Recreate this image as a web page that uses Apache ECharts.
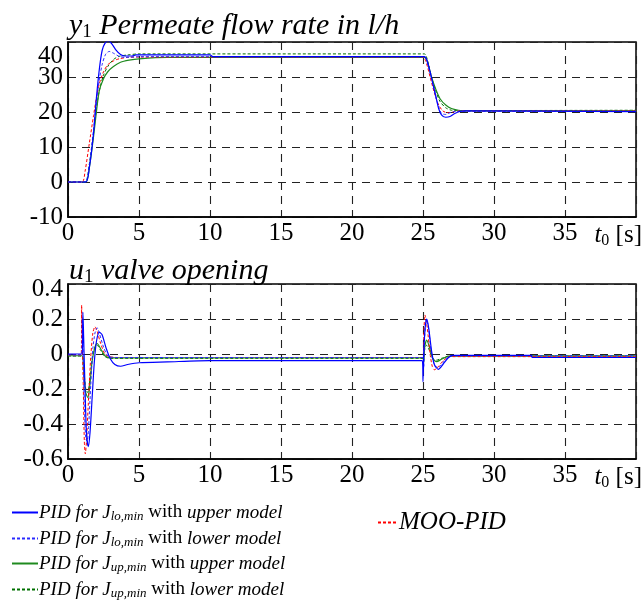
<!DOCTYPE html>
<html>
<head>
<meta charset="utf-8">
<script src="https://cdn.jsdelivr.net/npm/echarts@6/dist/echarts.min.js"></script>
<style>html,body{margin:0;padding:0;background:#fff}#c{width:644px;height:604px}</style>
</head>
<body>
<div id="c"></div>
<script>
// ---- data ----
var xTicks = [0, 5, 10, 15, 20, 25, 30, 35];
var seriesNames = [
  'PID for J_lo,min with upper model',
  'PID for J_lo,min with lower model',
  'PID for J_up,min with upper model',
  'PID for J_up,min with lower model',
  'MOO-PID'
];

// y1 permeate flow rate [t, l/h]
var y1LoUpper = [[0,0],[1.25,0],[1.5,4],[1.8,14],[2.0,24],[2.2,32],[2.4,37.5],[2.6,39.6],[2.85,40.3],[3.1,39.4],[3.4,37.6],[3.7,36.4],[4.0,36.0],[4.5,36.0],[4.8,36.3],[10,36.3],[10.2,35.8],[25.1,35.8],[25.3,34.5],[25.5,31.5],[25.7,28],[25.9,24.5],[26.1,21],[26.3,19.2],[26.6,18.5],[26.9,18.7],[27.2,19.5],[27.6,20.2],[28,20.3],[40,20.1]];
var y1LoLower = [[0,0],[1.2,0],[1.5,5],[1.8,15],[2.0,23],[2.2,29],[2.4,33.5],[2.65,36.5],[2.9,37.3],[3.2,36.8],[3.6,35.9],[4.0,35.6],[5,35.8],[25.1,35.8],[25.3,34],[25.6,29.5],[25.9,24.5],[26.1,21.5],[26.3,19.6],[26.6,19.3],[26.9,19.8],[27.3,20.2],[40,20.2]];
var y1UpUpper = [[0,0],[1.25,0],[1.5,4],[1.8,13],[2.0,20],[2.2,26],[2.5,29.5],[2.8,31.5],[3.2,33],[3.7,34.2],[4.3,34.8],[5,35.2],[7,35.6],[25.1,35.6],[25.3,34.5],[25.6,30],[25.9,26.5],[26.2,23.8],[26.6,22],[27,21],[27.5,20.5],[28,20.3],[40,20.3]];
var y1UpLower = [[0,0],[1.2,0],[1.5,5],[1.8,14],[2.0,21],[2.2,26],[2.5,30.5],[2.8,33],[3.2,35],[3.6,35.9],[4.2,36.3],[5,36.6],[25.1,36.6],[25.3,35],[25.6,30],[25.9,26],[26.2,23],[26.6,21.2],[27,20.5],[27.5,20.4],[40,20.5]];
var y1Moo = [[0,0],[1.0,0],[1.2,3],[1.5,11],[1.8,19],[2.0,24],[2.2,28],[2.5,31.5],[2.8,33.5],[3.2,34.6],[3.6,35.2],[4.2,35.6],[5,35.7],[25.0,35.7],[25.2,34.5],[25.5,30],[25.8,25.5],[26.1,22],[26.4,20.3],[26.7,19.8],[27.1,20.0],[27.6,20.3],[40,20.3]];

// u1 valve opening [t, -]
var u1LoUpper = [[0,0],[1.0,0],[1.05,0.24],[1.1,0.1],[1.2,-0.2],[1.3,-0.45],[1.43,-0.53],[1.55,-0.45],[1.7,-0.25],[1.85,-0.05],[2.0,0.07],[2.2,0.125],[2.4,0.11],[2.7,0.03],[3.0,-0.03],[3.3,-0.06],[3.7,-0.07],[4.2,-0.06],[5,-0.05],[7,-0.045],[10,-0.038],[24.95,-0.038],[25.0,-0.158],[25.05,0.0],[25.15,0.15],[25.26,0.2],[25.4,0.15],[25.6,0.02],[25.8,-0.06],[26.08,-0.088],[26.4,-0.06],[26.8,-0.02],[27.1,-0.008],[32.6,-0.008],[32.7,-0.02],[40,-0.02]];
var u1LoLower = [[0,-0.005],[0.97,-0.005],[1.0,0.2],[1.05,0.05],[1.15,-0.3],[1.25,-0.48],[1.35,-0.5],[1.45,-0.42],[1.6,-0.18],[1.75,0.03],[1.9,0.12],[2.05,0.15],[2.2,0.12],[2.5,0.04],[2.8,-0.01],[3.2,-0.02],[25,-0.02],[25.05,-0.08],[25.12,0.1],[25.25,0.2],[25.4,0.14],[25.6,0.0],[25.85,-0.07],[26.1,-0.075],[26.5,-0.04],[27,-0.01],[40,-0.01]];
var u1UpUpper = [[0,-0.01],[1.0,-0.01],[1.1,-0.1],[1.25,-0.22],[1.4,-0.25],[1.55,-0.17],[1.7,-0.04],[1.9,0.04],[2.05,0.06],[2.3,0.03],[2.6,-0.01],[3.0,-0.022],[25,-0.022],[25.05,-0.05],[25.12,0.04],[25.26,0.08],[25.45,0.04],[25.7,-0.03],[25.96,-0.044],[26.3,-0.03],[26.7,-0.015],[27,-0.01],[40,-0.01]];
var u1UpLower = [[0,-0.012],[1.0,-0.012],[1.1,-0.08],[1.25,-0.2],[1.38,-0.22],[1.55,-0.14],[1.7,-0.03],[1.9,0.04],[2.05,0.05],[2.3,0.02],[2.6,-0.015],[3.0,-0.025],[25,-0.025],[25.1,0.02],[25.25,0.05],[25.45,0.02],[25.7,-0.025],[25.95,-0.035],[26.3,-0.025],[26.8,-0.012],[40,-0.012]];
var u1Moo = [[0,-0.005],[0.93,-0.005],[0.96,0.28],[1.0,0.1],[1.08,-0.2],[1.15,-0.5],[1.22,-0.57],[1.3,-0.5],[1.45,-0.25],[1.6,-0.02],[1.75,0.12],[1.9,0.156],[2.05,0.13],[2.3,0.06],[2.6,0.0],[2.9,-0.015],[3.5,-0.02],[25.0,-0.02],[25.05,0.1],[25.14,0.223],[25.3,0.15],[25.5,0.0],[25.65,-0.07],[25.8,-0.09],[26.0,-0.08],[26.4,-0.04],[26.9,-0.015],[40,-0.015]];

// ---- chart ----
var FONT = 'Liberation Serif';
var chart = echarts.init(document.getElementById('c'), null, {renderer: 'canvas'});

var styles = {};
styles[seriesNames[0]] = {color: '#0000ff', type: 'solid', width: 1.2};
styles[seriesNames[1]] = {color: '#2a2aff', type: [3, 2], width: 1};
styles[seriesNames[2]] = {color: '#1f8a1f', type: 'solid', width: 1.2};
styles[seriesNames[3]] = {color: '#007000', type: [3, 2], width: 1};
styles[seriesNames[4]] = {color: '#ff0000', type: [3, 2], width: 1};

function mk(name, data, idx) {
  var s = styles[name];
  return {
    name: name, type: 'line', data: data, xAxisIndex: idx, yAxisIndex: idx,
    symbol: 'none', smooth: 0.25, animation: false, clip: true,
    lineStyle: {color: s.color, type: s.type, width: s.width},
    itemStyle: {color: s.color}
  };
}

var richTxt = {
  i: {fontFamily: FONT, fontStyle: 'italic', fontSize: 19, color: '#000'},
  n: {fontFamily: FONT, fontSize: 19, color: '#000'},
  s: {fontFamily: FONT, fontStyle: 'italic', fontSize: 13, color: '#000', verticalAlign: 'bottom', padding: [9, 0, 0, 0]}
};

function legendFmt(name) {
  var m = name.match(/^PID for J_(\S+) with (\S+ model)$/);
  if (!m) return name;
  return '{i|PID for J}{s|' + m[1] + '}{n| with }{i|' + m[2] + '}';
}

var titleRich = {
  i: {fontFamily: FONT, fontStyle: 'italic', fontWeight: 'normal', fontSize: 30, color: '#000'},
  s: {fontFamily: FONT, fontWeight: 'normal', fontSize: 19, color: '#000', verticalAlign: 'bottom', padding: [13, 0, 0, 0]}
};

function xAxisCfg(idx) {
  return {
    type: 'value', gridIndex: idx, min: 0, max: 40, interval: 5,
    axisLine: {show: true, onZero: false, lineStyle: {color: '#000', width: 1.5}},
    axisTick: {show: false},
    splitLine: {show: true, lineStyle: {color: '#222', type: [8, 6], width: 1.1}},
    axisLabel: {
      fontFamily: FONT, fontSize: 25, color: '#000', margin: 4,
      formatter: function (v) { return xTicks.indexOf(v) >= 0 ? String(v) : ''; }
    },
    name: '{i|t}{s|0}{n| [s]}', nameLocation: 'end', nameGap: 6,
    nameTextStyle: {
      align: 'right', verticalAlign: 'top', padding: [4, 0, 0, 0],
      rich: {
        i: {fontFamily: FONT, fontStyle: 'italic', fontSize: 25, color: '#000'},
        s: {fontFamily: FONT, fontSize: 16, color: '#000', verticalAlign: 'bottom', padding: [12, 0, 0, 0]},
        n: {fontFamily: FONT, fontSize: 25, color: '#000'}
      }
    }
  };
}

function fmtVal(v, dec) {
  return dec ? (Math.abs(v) < 1e-9 ? '0' : v.toFixed(dec)) : String(v);
}

// main y axis: all tick labels except the top one
function yAxisCfg(idx, min, max, interval, dec) {
  return {
    type: 'value', gridIndex: idx, min: min, max: max, interval: interval,
    axisLine: {show: true, onZero: false, lineStyle: {color: '#000', width: 1.5}},
    axisTick: {show: false},
    splitLine: {show: true, lineStyle: {color: '#222', type: [8, 6], width: 1.1}},
    axisLabel: {
      fontFamily: FONT, fontSize: 25, color: '#000', margin: 5,
      formatter: function (v) { return Math.abs(v - max) < 1e-9 ? '' : fmtVal(v, dec); }
    }
  };
}
// label-only y axis carrying the top tick label, nudged downward as in the original
function yTopCfg(idx, min, max, interval, dec, shift) {
  return {
    type: 'value', gridIndex: idx, min: min, max: max, interval: interval, position: 'left',
    axisLine: {show: false}, axisTick: {show: false}, splitLine: {show: false},
    axisLabel: {
      fontFamily: FONT, fontSize: 25, color: '#000', margin: 5,
      formatter: function (v) { return Math.abs(v - max) < 1e-9 ? '{d|' + fmtVal(v, dec) + '}' : ''; },
      rich: {d: {fontFamily: FONT, fontSize: 25, color: '#000', padding: [shift * 2, 0, 0, 0]}}
    }
  };
}

var legendTops = [498, 524, 549, 575];
var legends = [];
for (var k = 0; k < 4; k++) {
  legends.push({
    data: [seriesNames[k]], left: 6, top: legendTops[k],
    itemWidth: 26, itemHeight: 10, selectedMode: false,
    itemStyle: {opacity: 0, borderWidth: 0},
    formatter: legendFmt, textStyle: {rich: richTxt, padding: [0, 0, 0, -4]}
  });
}
legends.push({
  data: [seriesNames[4]], left: 372, top: 505, itemWidth: 20, itemHeight: 10,
  selectedMode: false, itemStyle: {opacity: 0, borderWidth: 0},
  textStyle: {fontFamily: FONT, fontStyle: 'italic', fontSize: 25, color: '#000', padding: [0, 0, 0, -4]}
});

var option = {
  backgroundColor: '#fff',
  animation: false,
  title: [
    {text: '{i|y}{s|1}{i| Permeate flow rate in l/h}', left: 64, top: 5, textStyle: {fontWeight: 'normal', rich: titleRich}},
    {text: '{i|u}{s|1}{i| valve opening}', left: 64, top: 250, textStyle: {fontWeight: 'normal', rich: titleRich}}
  ],
  grid: [
    {left: 68, right: 8, top: 42, height: 175, show: true, borderColor: '#000', borderWidth: 1.5},
    {left: 68, right: 8, top: 284, height: 175, show: true, borderColor: '#000', borderWidth: 1.5}
  ],
  xAxis: [xAxisCfg(0), xAxisCfg(1)],
  yAxis: [
    yAxisCfg(0, -10, 40, 10, 0),
    yAxisCfg(1, -0.6, 0.4, 0.2, 1),
    yTopCfg(0, -10, 40, 10, 0, 14),
    yTopCfg(1, -0.6, 0.4, 0.2, 1, 5)
  ],
  legend: legends,
  series: [
    mk(seriesNames[3], y1UpLower, 0),
    mk(seriesNames[2], y1UpUpper, 0),
    mk(seriesNames[4], y1Moo, 0),
    mk(seriesNames[1], y1LoLower, 0),
    mk(seriesNames[0], y1LoUpper, 0),
    mk(seriesNames[3], u1UpLower, 1),
    mk(seriesNames[2], u1UpUpper, 1),
    mk(seriesNames[4], u1Moo, 1),
    mk(seriesNames[1], u1LoLower, 1),
    mk(seriesNames[0], u1LoUpper, 1)
  ]
};
chart.setOption(option);
</script>
</body>
</html>
